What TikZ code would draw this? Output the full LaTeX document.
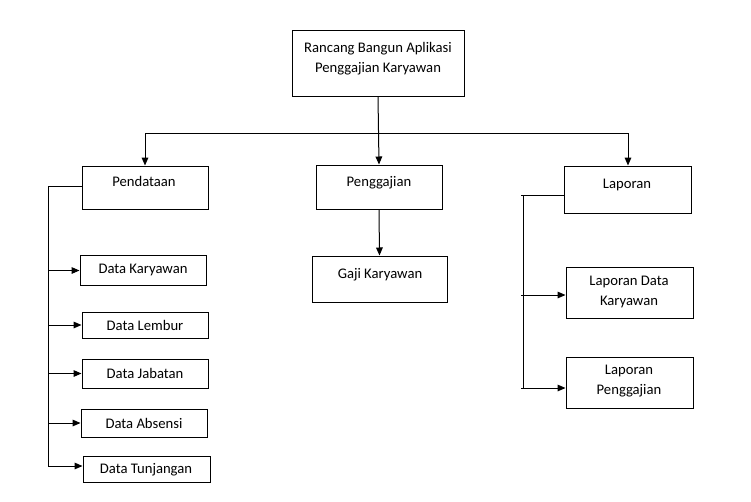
\documentclass[tikz,border=0pt]{standalone}
\usepackage{fontspec}
\setmainfont{Carlito}
\usetikzlibrary{arrows.meta}
\tikzset{
  bx/.style 2 args={draw=black, line width=0.75pt, minimum width=#1*0.75pt, minimum height=#2*0.75pt, inner sep=0pt},
  lbl/.style={anchor=base, inner sep=0pt, font=\fontsize{11}{15}\selectfont},
  lbl2/.style={anchor=center, inner sep=0pt, align=center, font=\fontsize{11}{15}\selectfont},
  ln/.style={draw=black, line width=0.75pt},
  arr/.style={ln, -{Triangle[length=6pt,width=5pt]}}
}
\begin{document}
\begin{tikzpicture}[x=0.75pt, y=-0.75pt]
\useasboundingbox (0,0) rectangle (751,501);
% boxes
\node (top) [bx={172}{66}] at (378,63) {};
\node (pd)  [bx={126}{43}] at (145,187.5) {};
\node (pg)  [bx={126}{44}] at (379,187) {};
\node (lp)  [bx={127}{47}] at (627.5,189.5) {};
\node (gk)  [bx={135}{46}] at (379.5,279) {};
\node (dk)  [bx={126}{30}] at (143,270.5) {};
\node (dl)  [bx={126}{26}] at (145,325) {};
\node (dj)  [bx={126}{29}] at (145,373.5) {};
\node (da)  [bx={126}{28}] at (144,423) {};
\node (dt)  [bx={127}{26}] at (146.5,469) {};
\node (ldk) [bx={127}{51}] at (629.5,292.5) {};
\node (lpg) [bx={127}{51}] at (629.5,382.5) {};
% texts
\node (topt) [lbl2] at (378,59) {Rancang Bangun Aplikasi\\Penggajian Karyawan};
\node (pdt) [lbl] at (144,186) {Pendataan};
\node (pgt) [lbl] at (379,186) {Penggajian};
\node (lpt) [lbl] at (627,188) {Laporan};
\node (gkt) [lbl] at (380,278) {Gaji Karyawan};
\node (dkt) [lbl] at (143,273) {Data Karyawan};
\node (dlt) [lbl] at (145,330) {Data Lembur};
\node (djt) [lbl] at (145,378) {Data Jabatan};
\node (dat) [lbl] at (144,428) {Data Absensi};
\node (dtt) [lbl] at (146,473) {Data Tunjangan};
\node (ldkt) [lbl2] at (629,292) {Laporan Data\\Karyawan};
\node (lpgt) [lbl2] at (629,381) {Laporan\\Penggajian};
% top level connectors
\coordinate (hl) at (145,133);
\coordinate (hr) at (628,133);
\draw[arr] (top.south) -- (pg.north);
\draw[ln] (hl) -- (hr);
\draw[arr] (hl) -- (hl |- pd.north);
\draw[arr] (hr) -- (hr |- lp.north);
\draw[arr] (pg.south) -- (gk.north);
% left bus
\coordinate (lb) at (48,186);
\coordinate (lbe) at (48,466);
\draw[ln] (pd.west |- lb) -- (lb) -- (lbe);
\draw[arr] (lb |- dk.west) -- (dk.west);
\draw[arr] (lb |- dl.west) -- (dl.west);
\draw[arr] (lb |- dj.west) -- (dj.west);
\draw[arr] (lb |- da.west) -- (da.west);
\draw[arr] (lbe) -- (lbe -| dt.west);
% right bus
\coordinate (rb) at (523,195);
\coordinate (rbe) at (523,388);
\coordinate (r1) at (521,295);
\coordinate (r2) at (521,388);
\draw[ln] (rb -| lp.west) -- (521,195);
\draw[ln] (rb) -- (rbe);
\draw[arr] (r1) -- (r1 -| ldk.west);
\draw[arr] (r2) -- (r2 -| lpg.west);
\end{tikzpicture}
\end{document}
